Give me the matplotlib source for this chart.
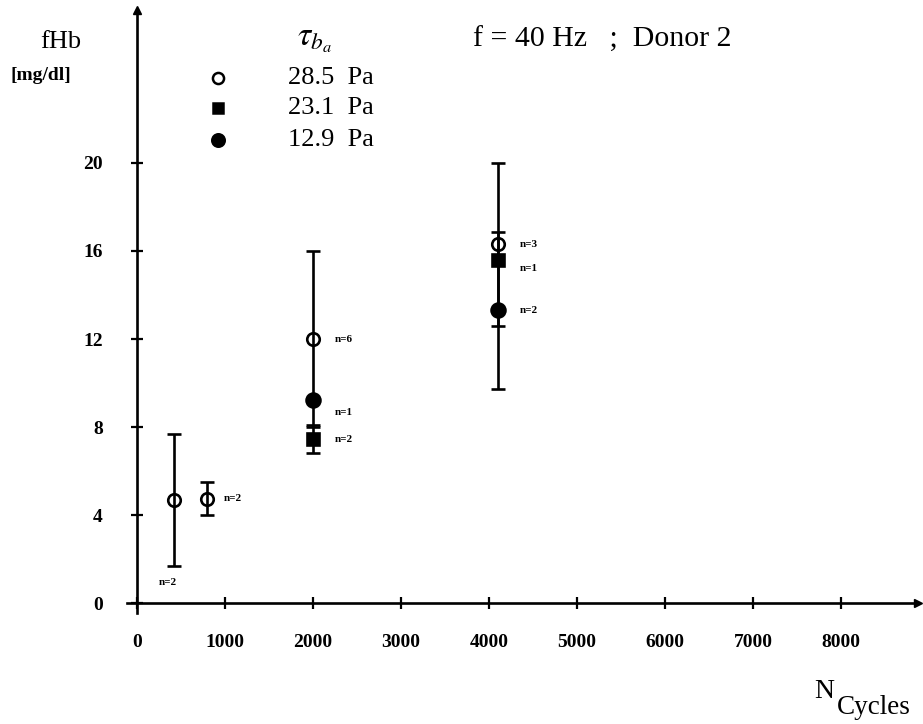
import matplotlib.pyplot as plt
import numpy as np

plt.rcParams["font.family"] = "Liberation Serif"
plt.rcParams["mathtext.fontset"] = "stix"

# free haemoglobin vs number of cycles, f = 40 Hz, donor 2
series_labels = ["28.5  Pa", "23.1  Pa", "12.9  Pa"]

cyc_open = [420, 800, 2000, 4100]
fhb_open = [4.7, 4.75, 12.0, 16.3]
err_open = [3.0, 0.75, 4.0, 3.7]
n_open = ["n=2", "n=2", "n=6", "n=3"]

cyc_square = [2000, 4100]
fhb_square = [7.45, 15.6]
err_square = [0.65, 0.0]
n_square = ["n=2", "n=1"]

cyc_filled = [2000, 4100]
fhb_filled = [9.25, 13.3]
err_filled = [0.0, 3.55]
n_filled = ["n=1", "n=2"]

x_ticks = [0, 1000, 2000, 3000, 4000, 5000, 6000, 7000, 8000]
y_ticks = [0, 4, 8, 12, 16, 20]

W, H = 923, 724
fig = plt.figure(figsize=(W / 100, H / 100), dpi=100)
ax = fig.add_axes([127.3 / W, 1 - 613 / H, 790.7 / W, 603 / H])
ax.set_xlim(-110, 8875)
ax.set_ylim(-0.45, 26.95)

# axes through the origin, with arrow heads
for s in ["top", "right"]:
    ax.spines[s].set_visible(False)
ax.spines["left"].set_position(("data", 0))
ax.spines["bottom"].set_position(("data", 0))
for s in ["left", "bottom"]:
    ax.spines[s].set_linewidth(1.9)
ax.plot(0, 1, marker="^", ms=6, color="black", transform=ax.get_xaxis_transform(), clip_on=False)
ax.plot(1, 0, marker=">", ms=6, color="black", transform=ax.get_yaxis_transform(), clip_on=False)

ax.set_xticks(x_ticks)
ax.set_yticks(y_ticks)
ax.tick_params(direction="inout", length=9, width=1.6)
ax.tick_params(axis="x", pad=18)
ax.tick_params(axis="y", pad=20)
for lab in ax.get_xticklabels() + ax.get_yticklabels():
    lab.set_fontsize(14)
    lab.set_fontweight("bold")


def draw(x, y, err, marker, ms, mfc):
    x, y, err = np.array(x), np.array(y), np.array(err)
    m = err > 0
    ax.errorbar(x[m], y[m], yerr=err[m], fmt="none", ecolor="black",
                elinewidth=1.9, capsize=5, capthick=1.9, zorder=2)
    ax.plot(x, y, linestyle="none", marker=marker, ms=ms, mfc=mfc,
            mec="black", mew=1.9, zorder=3)


draw(cyc_open, fhb_open, err_open, "o", 9, "none")
draw(cyc_square, fhb_square, err_square, "s", 8, "black")
draw(cyc_filled, fhb_filled, err_filled, "o", 10, "black")

# n = ... annotations
open_off = [(-11, -60), (12, 0), (16, 0), (16, 0)]
square_off = [(16, 0), (16, -6)]
filled_off = [(16, -9), (16, 0)]
groups = [
    (cyc_open, fhb_open, n_open, open_off),
    (cyc_square, fhb_square, n_square, square_off),
    (cyc_filled, fhb_filled, n_filled, filled_off),
]
for xs, ys, ns, offs in groups:
    for x, y, n, off in zip(xs, ys, ns, offs):
        ax.annotate(n, (x, y), xytext=off, textcoords="offset points",
                    fontsize=8, fontweight="bold", va="center", ha="left")

# legend drawn by hand
fx = lambda p: p / W
fy = lambda p: 1 - p / H
fig.text(fx(297), fy(40), r"$\tau_{b_a}$", fontsize=24, va="center", ha="left")
leg_y = [78, 108, 140]
leg_style = [("o", 8, "none"), ("s", 7, "black"), ("o", 9, "black")]
for yy, (mk, ms, mfc), lbl in zip(leg_y, leg_style, series_labels):
    fig.lines.append(plt.Line2D([fx(218)], [fy(yy)], marker=mk, ms=ms, mfc=mfc,
                                mec="black", mew=1.8, linestyle="none",
                                transform=fig.transFigure))
    fig.text(fx(288), fy(yy), lbl, fontsize=19, va="center", ha="left")

fig.text(fx(473), fy(40), "f = 40 Hz   ;  Donor 2", fontsize=21.5, va="center", ha="left")
fig.text(fx(40), fy(42), "fHb", fontsize=19, va="center", ha="left")
fig.text(fx(10), fy(75), "[mg/dl]", fontsize=14, fontweight="bold", va="center", ha="left")
fig.text(fx(814), fy(692), "N", fontsize=20, va="center", ha="left")
fig.text(fx(837), fy(708), "Cycles", fontsize=19.5, va="center", ha="left")

fig.savefig("out.png", dpi=100)
